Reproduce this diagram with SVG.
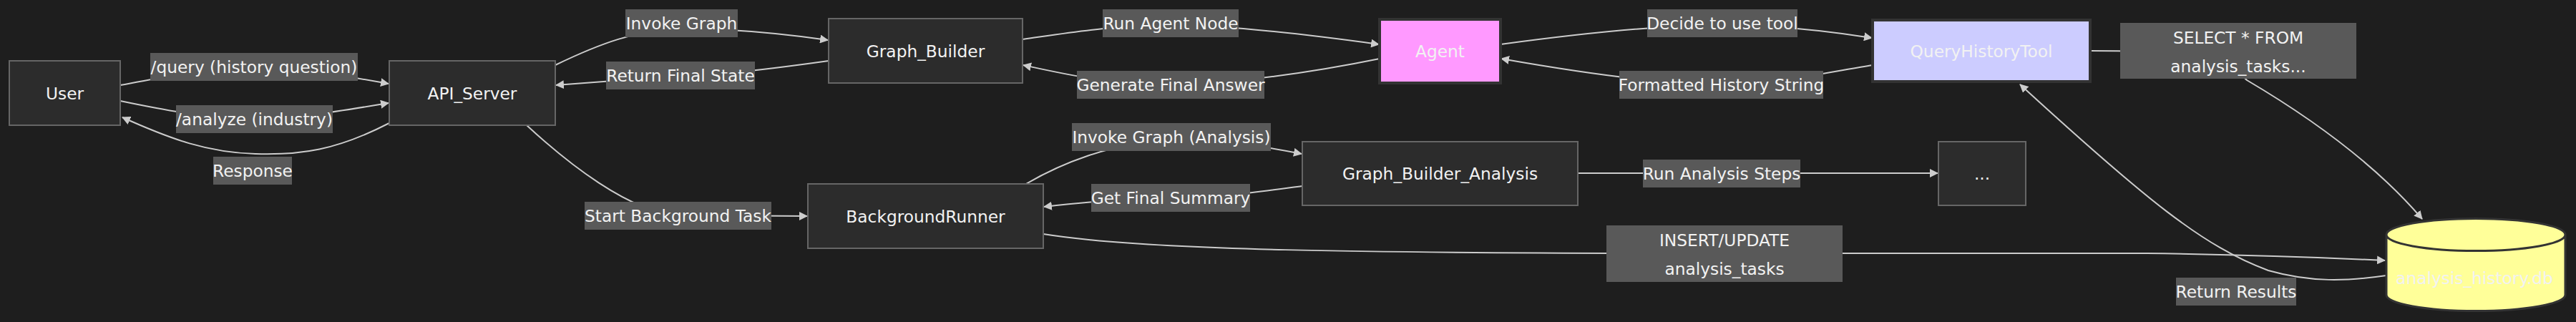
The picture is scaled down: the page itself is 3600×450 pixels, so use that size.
<svg xmlns="http://www.w3.org/2000/svg" width="3600" height="450" viewBox="0 0 3600 450">
<defs>
<marker id="arrow" viewBox="0 0 12 12" refX="11" refY="6" markerWidth="12" markerHeight="12" markerUnits="userSpaceOnUse" orient="auto">
<path d="M0,0 L12,6 L0,12 z" fill="#cccccc"/>
</marker>
<style>
.bg{fill:#1e1e1e}
.node rect{fill:#2c2c2c;stroke:#666666;stroke-width:2}
.edge{fill:none;stroke:#cccccc;stroke-width:2;marker-end:url(#arrow)}
.lbl rect{fill:#595959}
text{font-family:"DejaVu Sans",sans-serif;font-size:23.3px;fill:#f2f2f2;text-anchor:middle;dominant-baseline:central}
</style>
</defs>
<rect class="bg" x="0" y="0" width="3600" height="450"/>
<g id="connectors">
<path class="edge" d="M168,119 C250,104 300,93 355,93 C410,93 470,104 543,117"/>
<path class="edge" d="M168,141 C250,158 300,166 355,166 C410,166 470,156 543,144"/>
<path class="edge" d="M544,172 C470,210 420,217 357,215 C290,213 240,195 171,164"/>
<path class="edge" d="M776,91 C840,60 890,42 952,40 C1010,40 1080,45 1157,56"/>
<path class="edge" d="M1158,85 C1080,96 1000,105 951,107 C900,110 840,114 777,119"/>
<path class="edge" d="M736,175 C790,225 880,298 950,301 L1128,302"/>
<path class="edge" d="M1429,55 C1500,45 1560,35 1636,35 C1720,35 1840,50 1927,62"/>
<path class="edge" d="M1928,82 C1840,100 1720,118 1636,118 C1550,118 1490,104 1430,91"/>
<path class="edge" d="M2097,62 C2200,48 2320,35 2407,35 C2490,35 2560,44 2616,53"/>
<path class="edge" d="M2617,91 C2560,100 2480,118 2405,118 C2320,118 2200,100 2098,82"/>
<path class="edge" d="M1434,257 C1480,230 1550,200 1637,195 C1700,195 1760,203 1819,215"/>
<path class="edge" d="M1820,260 C1760,268 1700,277 1636,277 C1570,277 1510,283 1459,289"/>
<path class="edge" d="M2205,242 L2708,242"/>
<path class="edge" d="M2921,71 C3050,71 3110,80 3140,112 C3230,165 3320,230 3385,306"/>
<path class="edge" d="M1458,327 C1600,350 1900,354 2410,354 L3000,354 C3150,356 3250,360 3333,364"/>
<path class="edge" d="M3335,385 C3280,393 3230,395 3170,378 C3080,345 3000,280 2823,118"/>
</g>
<g id="edge-labels">
<g class="lbl"><rect x="210" y="74" width="290" height="39"/><text x="355" y="93.5">/query (history question)</text></g>
<g class="lbl"><rect x="246" y="147" width="219" height="39"/><text x="355.5" y="166.5">/analyze (industry)</text></g>
<g class="lbl"><rect x="298" y="219" width="110" height="39"/><text x="353" y="238.5">Response</text></g>
<g class="lbl"><rect x="874" y="13" width="157" height="39"/><text x="952.5" y="32.5">Invoke Graph</text></g>
<g class="lbl"><rect x="847" y="86" width="208" height="39"/><text x="951" y="105.5">Return Final State</text></g>
<g class="lbl"><rect x="817" y="282" width="261" height="39"/><text x="947.5" y="301.5">Start Background Task</text></g>
<g class="lbl"><rect x="1541" y="13" width="190" height="39"/><text x="1636" y="32.5">Run Agent Node</text></g>
<g class="lbl"><rect x="1505" y="99" width="262" height="39"/><text x="1636" y="118.5">Generate Final Answer</text></g>
<g class="lbl"><rect x="1498" y="172" width="278" height="39"/><text x="1637" y="191.5">Invoke Graph (Analysis)</text></g>
<g class="lbl"><rect x="1525" y="257" width="222" height="39"/><text x="1636" y="276.5">Get Final Summary</text></g>
<g class="lbl"><rect x="2302" y="13" width="210" height="39"/><text x="2407" y="32.5">Decide to use tool</text></g>
<g class="lbl"><rect x="2263" y="99" width="285" height="39"/><text x="2405.5" y="118.5">Formatted History String</text></g>
<g class="lbl"><rect x="2296" y="223" width="220" height="39"/><text x="2406" y="242.5">Run Analysis Steps</text></g>
<g class="lbl"><rect x="2245" y="315" width="330" height="79"/><text x="2410" y="335">INSERT/UPDATE</text><text x="2410" y="375">analysis_tasks</text></g>
<g class="lbl"><rect x="2963" y="32" width="330" height="78"/><text x="3128" y="52">SELECT * FROM</text><text x="3128" y="92">analysis_tasks...</text></g>
<g class="lbl"><rect x="3041" y="388" width="168" height="39"/><text x="3125" y="407.5">Return Results</text></g>
</g>
<g id="User" class="node"><rect x="13" y="85" width="155" height="90"/><text x="90.5" y="130">User</text></g>
<g id="API_Server" class="node"><rect x="544" y="85" width="232" height="90"/><text x="660" y="130">API_Server</text></g>
<g id="Graph_Builder" class="node"><rect x="1158" y="26" width="271" height="90"/><text x="1293.5" y="71">Graph_Builder</text></g>
<g id="Agent" class="node"><rect x="1928" y="27" width="169" height="89" style="fill:#ff99ff;stroke:#333333;stroke-width:4"/><text x="2012.5" y="71.5">Agent</text></g>
<g id="QueryHistoryTool" class="node"><rect x="2617" y="28" width="304" height="86" style="fill:#ccccff;stroke:#333333;stroke-width:4"/><text x="2769" y="71">QueryHistoryTool</text></g>
<g id="BackgroundRunner" class="node"><rect x="1129" y="257" width="329" height="90"/><text x="1293.5" y="302">BackgroundRunner</text></g>
<g id="Graph_Builder_Analysis" class="node"><rect x="1820" y="198" width="385" height="89"/><text x="2012.5" y="242.5">Graph_Builder_Analysis</text></g>
<g id="More" class="node"><rect x="2709" y="198" width="122" height="89"/><text x="2770" y="242.5">...</text></g>
<g id="analysis_history_db" class="node"><path d="M3335,328 a125,22.5 0 0,0 250,0 a125,22.5 0 0,0 -250,0 l0,84 a125,22.5 0 0,0 250,0 l0,-84" style="fill:#ffff99;stroke:#333333;stroke-width:3"/><text x="3458" y="388">analysis_history.db</text></g>
</svg>
